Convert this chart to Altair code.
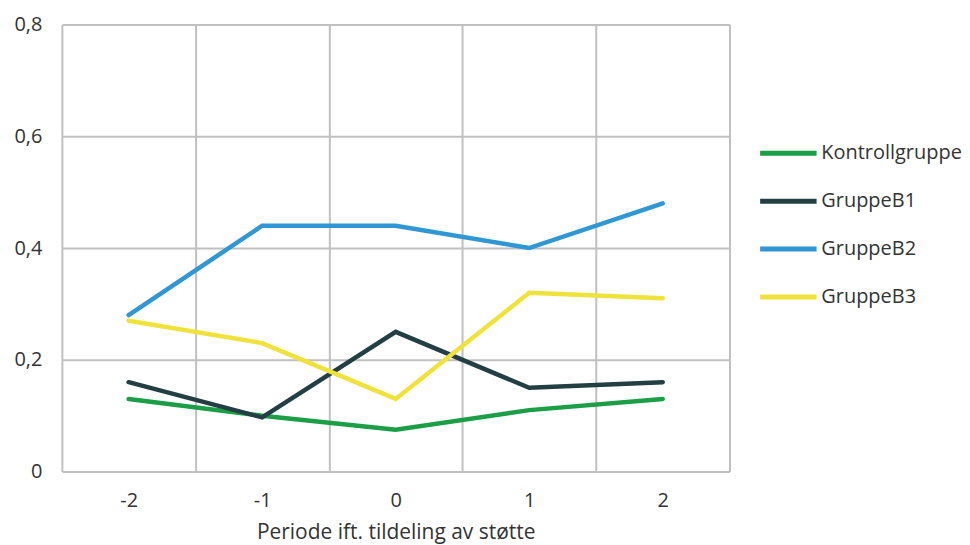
import altair as alt
import pandas as pd

periods = [-2, -1, 0, 1, 2]
groups = ["Kontrollgruppe", "GruppeB1", "GruppeB2", "GruppeB3"]
kontroll = [0.13, 0.10, 0.075, 0.11, 0.13]
b1 = [0.16, 0.097, 0.25, 0.15, 0.16]
b2 = [0.28, 0.44, 0.44, 0.40, 0.48]
b3 = [0.27, 0.23, 0.13, 0.32, 0.31]
colors = ["#1b9e46", "#233f43", "#3196d4", "#efe33b"]

rows = []
for g, vals in zip(groups, [kontroll, b1, b2, b3]):
    for p, v in zip(periods, vals):
        rows.append({"periode": str(p), "gruppe": g, "verdi": v})
df = pd.DataFrame(rows)

FONT = "Open Sans"

chart = alt.Chart(df).mark_line(strokeWidth=4.5, strokeCap="round", strokeJoin="miter").encode(
    x=alt.X(
        "periode:N",
        sort=[str(p) for p in periods],
        scale=alt.Scale(type="band", paddingInner=0, paddingOuter=0),
        bandPosition=0.5,
        axis=alt.Axis(
            title="Periode ift. tildeling av støtte",
            labelAngle=0,
            tickBand="extent",
            grid=True,
            ticks=False,
            domain=False,
            labelPadding=19,
            titlePadding=11,
        ),
    ),
    y=alt.Y(
        "verdi:Q",
        scale=alt.Scale(domain=[0, 0.8]),
        axis=alt.Axis(
            title=None,
            values=[0, 0.2, 0.4, 0.6, 0.8],
            labelExpr="datum.value == 0 ? '0' : replace(format(datum.value, '.1f'), '.', ',')",
            ticks=False,
            domain=False,
            labelPadding=20,
        ),
    ),
    color=alt.Color(
        "gruppe:N",
        sort=groups,
        scale=alt.Scale(domain=groups, range=colors),
        legend=alt.Legend(
            title=None,
            orient="none",
            legendX=697,
            legendY=98,
            symbolType="stroke",
            symbolSize=3200,
            symbolStrokeWidth=5,
            labelOffset=2,
            rowPadding=7,
            padding=0,
        ),
    ),
).properties(width=669, height=448, padding={"left": 5, "top": 6, "right": 0, "bottom": 1})

chart = chart.configure_axis(
    labelFont=FONT,
    titleFont=FONT,
    labelFontSize=20,
    titleFontSize=21,
    labelColor="#333333",
    titleColor="#333333",
    titleFontWeight="normal",
    gridColor="#c0c0c0",
    gridWidth=2,
).configure_legend(
    labelFont=FONT,
    labelFontSize=20,
    labelColor="#333333",
    labelLimit=300,
).configure_view(stroke=None)

chart.save("out.html", embed_options={"renderer": "svg", "actions": False})
